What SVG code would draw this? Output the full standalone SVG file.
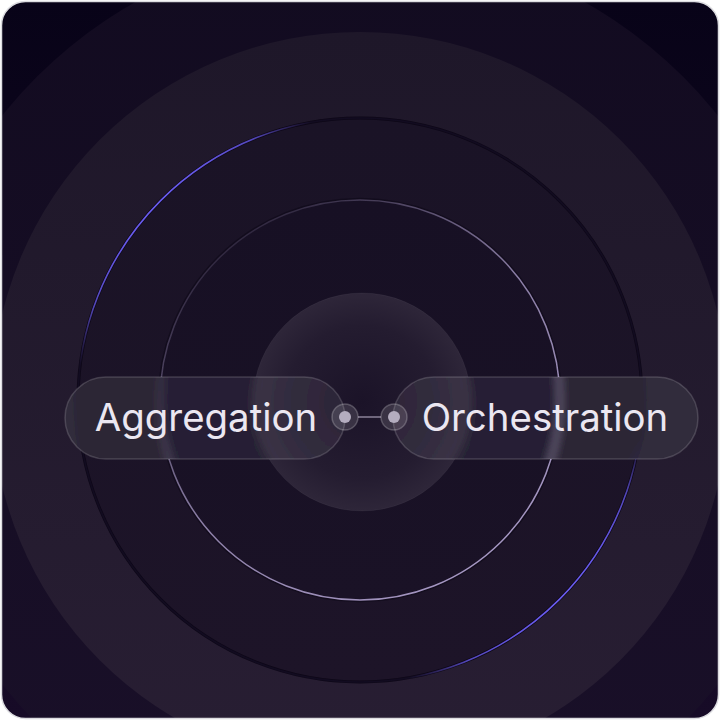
<svg xmlns="http://www.w3.org/2000/svg" xmlns:xlink="http://www.w3.org/1999/xlink" width="720" height="720" viewBox="0 0 720 720">
<style>
.label{font-family:Inter,"Noto Sans","Liberation Sans",sans-serif;font-size:38.4px;fill:#ebe7f1;text-anchor:middle}
.pill{fill:#ffffff;fill-opacity:0.07;stroke:#ffffff;stroke-opacity:0.16;stroke-width:1.5}
.port{fill:#ffffff;fill-opacity:0.12;stroke:#ffffff;stroke-opacity:0.22;stroke-width:1.5}
.port-core{fill:#b4adbf}
.link{stroke:#6f667c;stroke-width:2;fill:none}
</style>
<defs>
<clipPath id="frame"><rect x="1.5" y="1.5" width="717" height="717" rx="24"/></clipPath>
<linearGradient id="bg" x1="0" y1="0" x2="0" y2="1">
<stop offset="0" stop-color="#080318"/>
<stop offset="1" stop-color="#170b27"/>
</linearGradient>
<linearGradient id="gA" x1="0" y1="0" x2="0" y2="1">
<stop offset="0" stop-color="#120b20"/>
<stop offset="1" stop-color="#1a1029"/>
</linearGradient>
<linearGradient id="gB" x1="0" y1="0" x2="0" y2="1">
<stop offset="0" stop-color="#1e1729"/>
<stop offset="1" stop-color="#281e33"/>
</linearGradient>
<linearGradient id="gC" x1="0" y1="0" x2="0" y2="1">
<stop offset="0" stop-color="#1a1326"/>
<stop offset="1" stop-color="#1d1428"/>
</linearGradient>
<linearGradient id="gD" x1="0" y1="0" x2="0" y2="1">
<stop offset="0" stop-color="#171024"/>
<stop offset="1" stop-color="#1a1226"/>
</linearGradient>
<radialGradient id="gE" cx="0.5" cy="0.5" r="0.5">
<stop offset="0" stop-color="#1b1328"/>
<stop offset="0.7" stop-color="#241c30"/>
<stop offset="1" stop-color="#2e2639"/>
</radialGradient>
<linearGradient id="ringC" gradientUnits="userSpaceOnUse" x1="155" y1="205" x2="565" y2="595">
<stop offset="0" stop-color="#6a5cf0" stop-opacity="1"/>
<stop offset="0.045" stop-color="#6a5cf0" stop-opacity="0.75"/>
<stop offset="0.1" stop-color="#4a3c8a" stop-opacity="0.08"/>
<stop offset="0.9" stop-color="#4a3c8a" stop-opacity="0.08"/>
<stop offset="0.955" stop-color="#6a5cf0" stop-opacity="0.75"/>
<stop offset="1" stop-color="#6a5cf0" stop-opacity="1"/>
</linearGradient>
<linearGradient id="ringD" gradientUnits="userSpaceOnUse" x1="230" y1="230" x2="490" y2="570">
<stop offset="0" stop-color="#c8b8ea" stop-opacity="0.1"/>
<stop offset="0.5" stop-color="#c8b8ea" stop-opacity="0.65"/>
<stop offset="1" stop-color="#c8b8ea" stop-opacity="0.8"/>
</linearGradient>
<filter id="blur" x="-5%" y="-5%" width="110%" height="110%"><feGaussianBlur stdDeviation="4"/></filter>
<clipPath id="clipAgg"><rect x="65" y="377" width="280" height="82" rx="41"/></clipPath>
<clipPath id="clipOrc"><rect x="393" y="377" width="305" height="82" rx="41"/></clipPath>
</defs>
<rect width="720" height="720" fill="#ffffff"/>
<g clip-path="url(#frame)">
<g id="scene">
<rect width="720" height="720" fill="url(#bg)"/>
<circle cx="360" cy="400" r="457" fill="url(#gA)"/>
<circle cx="360" cy="400" r="368" fill="url(#gB)"/>
<circle cx="360" cy="400" r="282" fill="url(#gC)" stroke="#0d0717" stroke-width="3"/>
<circle cx="360" cy="400" r="282" fill="none" stroke="url(#ringC)" stroke-width="1.6"/>
<circle cx="360" cy="400" r="201.5" fill="none" stroke="#0e0818" stroke-opacity="0.6" stroke-width="1.5"/>
<circle cx="360" cy="400" r="200" fill="url(#gD)" stroke="url(#ringD)" stroke-width="1.5"/>
<circle cx="362" cy="402" r="109" fill="url(#gE)" stroke="#ffffff" stroke-opacity="0.04"/>
</g>
</g>
<g id="connectors">
<line class="link" x1="358" y1="417" x2="381" y2="417"/>
</g>
<g id="node-aggregation">
<g clip-path="url(#clipAgg)"><use xlink:href="#scene" filter="url(#blur)"/></g>
<rect class="pill" x="65" y="377" width="280" height="82" rx="41"/>
<text class="label" x="206" y="431">Aggregation</text>
<circle class="port" cx="345" cy="417" r="13"/>
<circle class="port-core" cx="345" cy="417" r="6"/>
</g>
<g id="node-orchestration">
<g clip-path="url(#clipOrc)"><use xlink:href="#scene" filter="url(#blur)"/></g>
<rect class="pill" x="393" y="377" width="305" height="82" rx="41"/>
<text class="label" x="545" y="431">Orchestration</text>
<circle class="port" cx="394" cy="417" r="13"/>
<circle class="port-core" cx="394" cy="417" r="6"/>
</g>
<rect x="1.5" y="1.5" width="717" height="717" rx="24" fill="none" stroke="#dcdce0" stroke-width="1.5"/>
</svg>
